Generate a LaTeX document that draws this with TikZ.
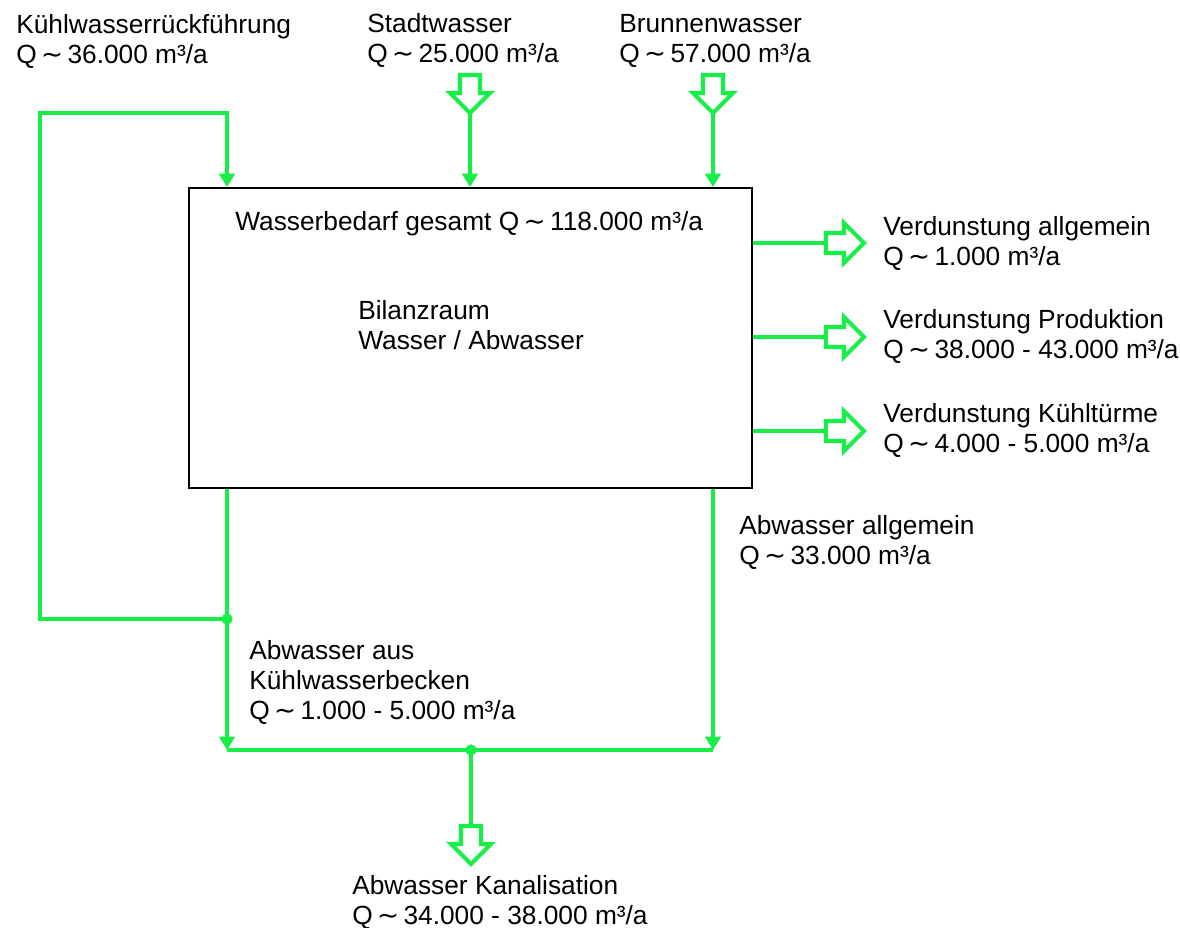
\documentclass[tikz,border=0pt]{standalone}
\usepackage{fontspec}
\setmainfont{Liberation Sans}
\newfontfamily\symfont{DejaVu Sans}
\usetikzlibrary{positioning,arrows.meta}
\definecolor{flowgreen}{RGB}{24,238,72}
\newcommand{\ca}{\,{\symfont\char"223C}\,}

\begin{document}
\begin{tikzpicture}[x=0.025cm,y=-0.025cm,
txt/.style={inner sep=0pt, anchor=base west, align=left, font=\fontsize{18.7}{21.3}\selectfont},
raumbox/.style={draw, line width=1.3pt, rectangle, minimum width=14.075cm, minimum height=7.5cm, inner sep=0pt},
flow/.style={draw=flowgreen, line width=2.9pt},
flowarr/.style={flow, -{Triangle[length=9.5pt,width=11pt]}},
knot/.style={circle, fill=flowgreen, inner sep=0pt, minimum size=8pt},
hollow/.pic={\draw[flow, line join=miter] (-10,0) -- (10,0) -- (10,18) -- (20,18) -- (0,38) -- (-20,18) -- (-10,18) -- cycle;},
]
\useasboundingbox (0,0) rectangle (1180,928);

% balance space
\node[raumbox] (raum) at (470.5,338) {};
\node[txt] (bedarf) at (235,230) {Wasserbedarf gesamt Q\ca 118.000 m³/a};
\node[txt] (bilanz) at (358,349) {Bilanzraum\\Wasser / Abwasser};

% inflows (base = last line)
\node[txt] (kuehl) at (16,63) {Kühlwasserrückführung\\Q\ca 36.000 m³/a};
\node[txt] (stadt) at (367,62) {Stadtwasser\\Q\ca 25.000 m³/a};
\node[txt] (brunnen) at (619,62) {Brunnenwasser\\Q\ca 57.000 m³/a};

\coordinate (stadtin) at (470,75);
\coordinate (stadttip) at (470,113);
\coordinate (brunnenin) at (713,75);
\coordinate (brunnentip) at (713,113);
\pic at (stadtin) {hollow};
\pic at (brunnenin) {hollow};
\draw[flowarr] (stadttip) -- (stadttip |- raum.north);
\draw[flowarr] (brunnentip) -- (brunnentip |- raum.north);

% cooling water loop
\coordinate (split) at (227,619);
\coordinate (looptop) at (40,113);
\draw[flowarr] (split) -| (looptop) -- (split |- looptop) -- (split |- raum.north);
\node[knot] (splitdot) at (split) {};

% evaporation
\coordinate (verd1) at (826,243);
\coordinate (verd2) at (826,337);
\coordinate (verd3) at (826,431);
\foreach \v in {verd1,verd2,verd3}{
  \draw[flow] (raum.east |- \v) -- (\v);
  \pic[rotate=90] at (\v) {hollow};
}
\node[txt] (verdall) at (883,265) {Verdunstung allgemein\\Q\ca 1.000 m³/a};
\node[txt] (verdprod) at (883,358) {Verdunstung Produktion\\Q\ca 38.000 - 43.000 m³/a};
\node[txt] (verdturm) at (883,452) {Verdunstung Kühltürme\\Q\ca 4.000 - 5.000 m³/a};

% waste water
\coordinate (abwr) at (713,750);
\coordinate (merge) at (471,750);
\draw[flowarr] (split |- raum.south) -- (split |- merge);
\draw[flowarr] (abwr |- raum.south) -- (abwr);
\draw[flow] (split |- merge) -- (abwr);
\node[knot] (mergedot) at (merge) {};
\node[txt] (abwall) at (739,564) {Abwasser allgemein\\Q\ca 33.000 m³/a};
\node[txt] (abwbecken) at (249,719) {Abwasser aus\\Kühlwasserbecken\\Q\ca 1.000 - 5.000 m³/a};

% sewer
\coordinate (kanalin) at (471,826);
\draw[flow] (merge) -- (kanalin);
\pic at (kanalin) {hollow};
\node[txt] (kanal) at (352,924) {Abwasser Kanalisation\\Q\ca 34.000 - 38.000 m³/a};
\end{tikzpicture}
\end{document}
